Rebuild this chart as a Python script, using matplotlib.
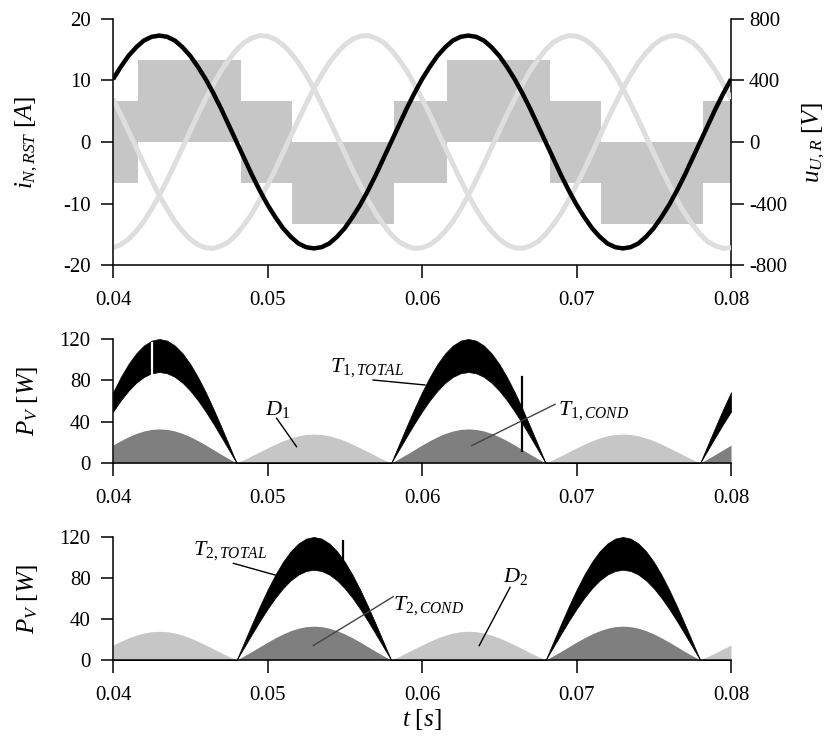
import numpy as np
import matplotlib
matplotlib.use('Agg')
import matplotlib.pyplot as plt

plt.rcParams['font.family'] = ['Liberation Serif', 'DejaVu Serif']
plt.rcParams['mathtext.fontset'] = 'custom'
plt.rcParams['mathtext.rm'] = 'Liberation Serif'
plt.rcParams['mathtext.it'] = 'Liberation Serif:italic'
plt.rcParams['mathtext.bf'] = 'Liberation Serif:bold'

# ---------------- data ----------------
t = np.round(0.04 + 0.0005 * np.arange(81), 4)

i_R = [10.2, 12.2, 14.0, 15.4, 16.5, 17.1, 17.3, 17.1, 16.5, 15.4,
       14.0, 12.2, 10.2, 7.9, 5.4, 2.7, 0.0, -2.7, -5.4, -7.9,
       -10.2, -12.2, -14.0, -15.4, -16.5, -17.1, -17.3, -17.1, -16.5, -15.4,
       -14.0, -12.2, -10.2, -7.9, -5.4, -2.7, 0.0, 2.7, 5.4, 7.9,
       10.2, 12.2, 14.0, 15.4, 16.5, 17.1, 17.3, 17.1, 16.5, 15.4,
       14.0, 12.2, 10.2, 7.9, 5.4, 2.7, 0.0, -2.7, -5.4, -7.9,
       -10.2, -12.2, -14.0, -15.4, -16.5, -17.1, -17.3, -17.1, -16.5, -15.4,
       -14.0, -12.2, -10.2, -7.9, -5.4, -2.7, 0.0, 2.7, 5.4, 7.9,
       10.2]
i_S = [-17.2, -16.7, -15.8, -14.5, -12.9, -10.9, -8.7, -6.2, -3.6, -0.9,
       1.8, 4.5, 7.0, 9.4, 11.6, 13.4, 15.0, 16.2, 16.9, 17.3,
       17.2, 16.7, 15.8, 14.5, 12.9, 10.9, 8.7, 6.2, 3.6, 0.9,
       -1.8, -4.5, -7.0, -9.4, -11.6, -13.4, -15.0, -16.2, -16.9, -17.3,
       -17.2, -16.7, -15.8, -14.5, -12.9, -10.9, -8.7, -6.2, -3.6, -0.9,
       1.8, 4.5, 7.0, 9.4, 11.6, 13.4, 15.0, 16.2, 16.9, 17.3,
       17.2, 16.7, 15.8, 14.5, 12.9, 10.9, 8.7, 6.2, 3.6, 0.9,
       -1.8, -4.5, -7.0, -9.4, -11.6, -13.4, -15.0, -16.2, -16.9, -17.3,
       -17.2]
i_T = [7.0, 4.5, 1.8, -0.9, -3.6, -6.2, -8.7, -10.9, -12.9, -14.5,
       -15.8, -16.7, -17.2, -17.3, -16.9, -16.2, -15.0, -13.4, -11.6, -9.4,
       -7.0, -4.5, -1.8, 0.9, 3.6, 6.2, 8.7, 10.9, 12.9, 14.5,
       15.8, 16.7, 17.2, 17.3, 16.9, 16.2, 15.0, 13.4, 11.6, 9.4,
       7.0, 4.5, 1.8, -0.9, -3.6, -6.2, -8.7, -10.9, -12.9, -14.5,
       -15.8, -16.7, -17.2, -17.3, -16.9, -16.2, -15.0, -13.4, -11.6, -9.4,
       -7.0, -4.5, -1.8, 0.9, 3.6, 6.2, 8.7, 10.9, 12.9, 14.5,
       15.8, 16.7, 17.2, 17.3, 16.9, 16.2, 15.0, 13.4, 11.6, 9.4,
       7.0]

# six-step phase voltage (band limits per segment, V)
u_edges = [0.04, 0.0416, 0.0483, 0.0516, 0.0582, 0.0616, 0.0683, 0.0716, 0.0782, 0.08]
u_low = [-267, 0, -267, -533, -267, 0, -267, -533, -267]
u_high = [267, 533, 267, 0, 267, 533, 267, 0, 267]

T1_hi = [68.5, 83.1, 95.8, 106.1, 113.7, 118.4, 120.0, 118.4, 113.7, 106.1,
         95.8, 83.1, 68.5, 52.4, 35.3, 17.7, 0, 0, 0, 0,
         0, 0, 0, 0, 0, 0, 0, 0, 0, 0,
         0, 0, 0, 0, 0, 0, 0, 17.7, 35.3, 52.4,
         68.5, 83.1, 95.8, 106.1, 113.7, 118.4, 120.0, 118.4, 113.7, 106.1,
         95.8, 83.1, 68.5, 52.4, 35.3, 17.7, 0, 0, 0, 0,
         0, 0, 0, 0, 0, 0, 0, 0, 0, 0,
         0, 0, 0, 0, 0, 0, 0, 17.7, 35.3, 52.4,
         68.5]
T1_lo = [49.7, 60.5, 69.9, 77.6, 83.3, 86.8, 88.0, 86.8, 83.3, 77.6,
         69.9, 60.5, 49.7, 37.9, 25.4, 12.7, 0, 0, 0, 0,
         0, 0, 0, 0, 0, 0, 0, 0, 0, 0,
         0, 0, 0, 0, 0, 0, 0, 12.7, 25.4, 37.9,
         49.7, 60.5, 69.9, 77.6, 83.3, 86.8, 88.0, 86.8, 83.3, 77.6,
         69.9, 60.5, 49.7, 37.9, 25.4, 12.7, 0, 0, 0, 0,
         0, 0, 0, 0, 0, 0, 0, 0, 0, 0,
         0, 0, 0, 0, 0, 0, 0, 12.7, 25.4, 37.9,
         49.7]
T1_cond = [17.4, 21.6, 25.4, 28.6, 31.0, 32.5, 33.0, 32.5, 31.0, 28.6,
           25.4, 21.6, 17.4, 12.9, 8.4, 4.1, 0, 0, 0, 0,
           0, 0, 0, 0, 0, 0, 0, 0, 0, 0,
           0, 0, 0, 0, 0, 0, 0, 4.1, 8.4, 12.9,
           17.4, 21.6, 25.4, 28.6, 31.0, 32.5, 33.0, 32.5, 31.0, 28.6,
           25.4, 21.6, 17.4, 12.9, 8.4, 4.1, 0, 0, 0, 0,
           0, 0, 0, 0, 0, 0, 0, 0, 0, 0,
           0, 0, 0, 0, 0, 0, 0, 4.1, 8.4, 12.9,
           17.4]
D1 = [0, 0, 0, 0, 0, 0, 0, 0, 0, 0,
      0, 0, 0, 0, 0, 0, 0, 3.4, 7.1, 10.9,
      14.6, 18.2, 21.5, 24.2, 26.3, 27.6, 28.0, 27.6, 26.3, 24.2,
      21.5, 18.2, 14.6, 10.9, 7.1, 3.4, 0, 0, 0, 0,
      0, 0, 0, 0, 0, 0, 0, 0, 0, 0,
      0, 0, 0, 0, 0, 0, 0, 3.4, 7.1, 10.9,
      14.6, 18.2, 21.5, 24.2, 26.3, 27.6, 28.0, 27.6, 26.3, 24.2,
      21.5, 18.2, 14.6, 10.9, 7.1, 3.4, 0, 0, 0, 0,
      0]

T2_hi = [0, 0, 0, 0, 0, 0, 0, 0, 0, 0,
         0, 0, 0, 0, 0, 0, 0, 17.7, 35.3, 52.4,
         68.5, 83.1, 95.8, 106.1, 113.7, 118.4, 120.0, 118.4, 113.7, 106.1,
         95.8, 83.1, 68.5, 52.4, 35.3, 17.7, 0, 0, 0, 0,
         0, 0, 0, 0, 0, 0, 0, 0, 0, 0,
         0, 0, 0, 0, 0, 0, 0, 17.7, 35.3, 52.4,
         68.5, 83.1, 95.8, 106.1, 113.7, 118.4, 120.0, 118.4, 113.7, 106.1,
         95.8, 83.1, 68.5, 52.4, 35.3, 17.7, 0, 0, 0, 0,
         0]
T2_lo = [0, 0, 0, 0, 0, 0, 0, 0, 0, 0,
         0, 0, 0, 0, 0, 0, 0, 12.7, 25.4, 37.9,
         49.7, 60.5, 69.9, 77.6, 83.3, 86.8, 88.0, 86.8, 83.3, 77.6,
         69.9, 60.5, 49.7, 37.9, 25.4, 12.7, 0, 0, 0, 0,
         0, 0, 0, 0, 0, 0, 0, 0, 0, 0,
         0, 0, 0, 0, 0, 0, 0, 12.7, 25.4, 37.9,
         49.7, 60.5, 69.9, 77.6, 83.3, 86.8, 88.0, 86.8, 83.3, 77.6,
         69.9, 60.5, 49.7, 37.9, 25.4, 12.7, 0, 0, 0, 0,
         0]
T2_cond = [0, 0, 0, 0, 0, 0, 0, 0, 0, 0,
           0, 0, 0, 0, 0, 0, 0, 4.1, 8.4, 12.9,
           17.4, 21.6, 25.4, 28.6, 31.0, 32.5, 33.0, 32.5, 31.0, 28.6,
           25.4, 21.6, 17.4, 12.9, 8.4, 4.1, 0, 0, 0, 0,
           0, 0, 0, 0, 0, 0, 0, 0, 0, 0,
           0, 0, 0, 0, 0, 0, 0, 4.1, 8.4, 12.9,
           17.4, 21.6, 25.4, 28.6, 31.0, 32.5, 33.0, 32.5, 31.0, 28.6,
           25.4, 21.6, 17.4, 12.9, 8.4, 4.1, 0, 0, 0, 0,
           0]
D2 = [14.6, 18.2, 21.5, 24.2, 26.3, 27.6, 28.0, 27.6, 26.3, 24.2,
      21.5, 18.2, 14.6, 10.9, 7.1, 3.4, 0, 0, 0, 0,
      0, 0, 0, 0, 0, 0, 0, 0, 0, 0,
      0, 0, 0, 0, 0, 0, 0, 3.4, 7.1, 10.9,
      14.6, 18.2, 21.5, 24.2, 26.3, 27.6, 28.0, 27.6, 26.3, 24.2,
      21.5, 18.2, 14.6, 10.9, 7.1, 3.4, 0, 0, 0, 0,
      0, 0, 0, 0, 0, 0, 0, 0, 0, 0,
      0, 0, 0, 0, 0, 0, 0, 3.4, 7.1, 10.9,
      14.6]

# switching glitches visible in the loss traces
spk1_t = [0.0425, 0.0665]
spk1_lo = [86, 12]
spk1_hi = [116, 83]
spk1_col = ['white', 'black']
spk2_t = [0.0549]
spk2_lo = [96]
spk2_hi = [116]

xticks = [0.04, 0.05, 0.06, 0.07, 0.08]
xticklabels = ['0.04', '0.05', '0.06', '0.07', '0.08']

# ---------------- styling helpers ----------------
BLACK = 'black'
FILL = '#c6c6c6'
LIGHT = '#dedede'
DARK = '#7f7f7f'
TICKFS = 15
LABFS = 18


def style(ax, yticks, ylim):
    for s in ['top', 'right']:
        ax.spines[s].set_visible(False)
    for s in ['left', 'bottom']:
        ax.spines[s].set_linewidth(1.1)
    ax.set_xlim(0.04, 0.08)
    ax.set_ylim(*ylim)
    ax.set_xticks(xticks, xticklabels)
    ax.set_yticks(yticks, [str(v) for v in yticks])
    ax.tick_params(axis='both', direction='out', length=9, width=1.1,
                   labelsize=TICKFS)
    ax.tick_params(axis='x', pad=10)
    ax.tick_params(axis='y', pad=7)


fig = plt.figure(figsize=(8.31, 7.38), dpi=100)
L, W = 0.136, 0.7437
ax1 = fig.add_axes([L, 0.6409, W, 0.3334])
ax1r = ax1.twinx()
ax2 = fig.add_axes([L, 0.3726, W, 0.1681])
ax3 = fig.add_axes([L, 0.1057, W, 0.1667])

# ---- top: currents and phase voltage ----
ax1r.fill_between(u_edges, u_low + [u_low[-1]], u_high + [u_high[-1]],
                  step='post', color=FILL, lw=0)
ax1r.set_ylim(-800, 800)
ax1r.set_yticks([-800, -400, 0, 400, 800], ['-800', '-400', '0', '400', '800'])
for s in ['top', 'left', 'bottom']:
    ax1r.spines[s].set_visible(False)
ax1r.spines['right'].set_linewidth(1.1)
ax1r.tick_params(axis='y', direction='out', length=9, width=1.1,
                 labelsize=TICKFS, pad=4)
ax1r.set_ylabel(r'$u_{U,R}\ [V]$', fontsize=LABFS)
ax1r.yaxis.set_label_coords(1.113, 0.5)

ax1.set_zorder(ax1r.get_zorder() + 1)
ax1.patch.set_visible(False)
ax1.plot(t, i_S, color=LIGHT, lw=3.6, solid_capstyle='butt')
ax1.plot(t, i_T, color=LIGHT, lw=3.6, solid_capstyle='butt')
ax1.plot(t, i_R, color=BLACK, lw=3.2, solid_capstyle='butt')
style(ax1, [-20, -10, 0, 10, 20], (-20, 20))
ax1.set_ylabel(r'$i_{N,RST}\ [A]$', fontsize=LABFS)
ax1.yaxis.set_label_coords(-0.118, 0.5)

# ---- middle: T1 / D1 losses ----
ax2.fill_between(t, 0, D1, color=FILL, lw=0)
ax2.fill_between(t, 0, T1_cond, color=DARK, lw=0)
ax2.fill_between(t, T1_lo, T1_hi, color=BLACK, lw=0.5, edgecolor=BLACK)
for x, lo, hi, c in zip(spk1_t, spk1_lo, spk1_hi, spk1_col):
    ax2.plot([x, x], [lo, hi], color=c, lw=1.6)
style(ax2, [0, 40, 80, 120], (0, 120))
ax2.set_ylabel(r'$P_V\ [W]$', fontsize=LABFS)
ax2.yaxis.set_label_coords(-0.118, 0.5)

ax2.text(0.05405, 88.4, r'$T_{1,TOTAL}$', fontsize=16, va='baseline', ha='left')
ax2.plot([0.05683, 0.06019], [80.3, 75.5], color=BLACK, lw=1)
ax2.text(0.06882, 46.5, r'$T_{1,COND}$', fontsize=16, va='baseline', ha='left')
ax2.plot([0.06861, 0.06321], [56.8, 16.8], color='#444444', lw=1)
ax2.text(0.04984, 46.5, r'$D_1$', fontsize=16, va='baseline', ha='left')
ax2.plot([0.05059, 0.05188], [43.3, 15.8], color=BLACK, lw=1)

# ---- bottom: T2 / D2 losses ----
ax3.fill_between(t, 0, D2, color=FILL, lw=0)
ax3.fill_between(t, 0, T2_cond, color=DARK, lw=0)
ax3.fill_between(t, T2_lo, T2_hi, color=BLACK, lw=0.5, edgecolor=BLACK)
for x, lo, hi in zip(spk2_t, spk2_lo, spk2_hi):
    ax3.plot([x, x], [lo, hi], color=BLACK, lw=1.6)
style(ax3, [0, 40, 80, 120], (0, 120))
ax3.set_ylabel(r'$P_V\ [W]$', fontsize=LABFS)
ax3.yaxis.set_label_coords(-0.118, 0.5)
ax3.set_xlabel(r'$t\ [s]$', fontsize=LABFS)
ax3.xaxis.set_label_coords(0.5, -0.385)

ax3.text(0.04516, 102.4, r'$T_{2,TOTAL}$', fontsize=16, va='baseline', ha='left')
ax3.plot([0.04779, 0.05049], [94.3, 82.9], color=BLACK, lw=1)
ax3.text(0.05814, 48.8, r'$T_{2,COND}$', fontsize=16, va='baseline', ha='left')
ax3.plot([0.05814, 0.05296], [61.8, 14.0], color='#444444', lw=1)
ax3.text(0.06527, 76.4, r'$D_2$', fontsize=16, va='baseline', ha='left')
ax3.plot([0.0657, 0.0637], [70.9, 14.0], color=BLACK, lw=1)

fig.savefig('out.png', dpi=100)
